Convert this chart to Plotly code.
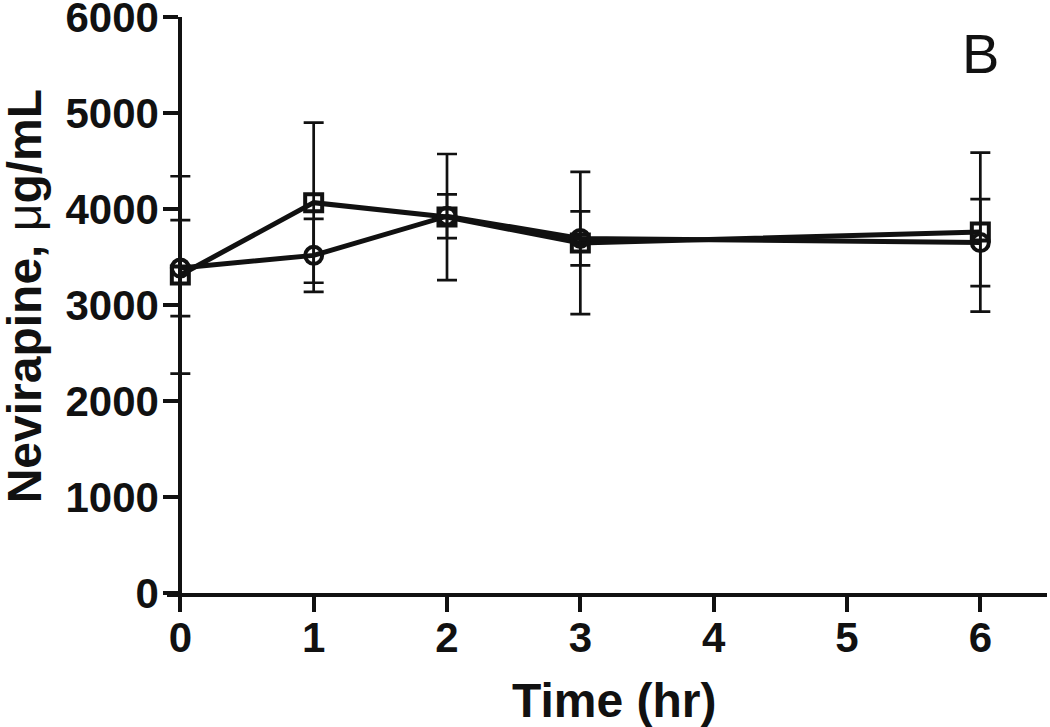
import plotly.graph_objects as go

# Data
time_hr = [0, 1, 2, 3, 6]
circle_mean = [3385, 3517, 3925, 3694, 3650]
circle_err = [500, 380, 228, 282, 453]
square_mean = [3313, 4066, 3916, 3645, 3760]
square_err = [1028, 834, 657, 741, 828]

x_ticks = [0, 1, 2, 3, 4, 5, 6]
y_ticks = [0, 1000, 2000, 3000, 4000, 5000, 6000]

x_title = "Time (hr)"
y_title = "Nevirapine, <span style='font-weight:normal'>μ</span>g/mL"
panel_label = "B"

INK = "#111111"
FONT = "Liberation Sans, Arial, Helvetica, sans-serif"

W, H = 1050, 727
ML, MR, MT, MB = 166.7, 3, 17, 134
X_MIN, X_MAX = -0.1, 6.5
plot_w = W - ML - MR
y_axis_pos = (0 - X_MIN) / (X_MAX - X_MIN)

fig = go.Figure()

for ys, es, sym in [(square_mean, square_err, "square-open"),
                    (circle_mean, circle_err, "circle-open")]:
    fig.add_trace(go.Scatter(
        x=time_hr, y=ys, mode="lines+markers",
        line=dict(color=INK, width=5),
        marker=dict(symbol=sym, size=17, color=INK, line=dict(width=4, color=INK)),
        error_y=dict(type="data", array=es, visible=True, color=INK,
                     thickness=2.7, width=10),
        cliponaxis=False,
        showlegend=False,
    ))

axis_common = dict(
    showline=True, linewidth=4, linecolor=INK, mirror=False,
    ticks="outside", ticklen=15, tickwidth=4, tickcolor=INK,
    showgrid=False, zeroline=False, automargin=False,
    ticklabeloverflow="allow",
    tickfont=dict(family=FONT, size=42, color=INK, weight="bold"),
)

fig.update_layout(
    width=W, height=H,
    margin=dict(l=ML, r=MR, t=MT, b=MB, pad=0),
    paper_bgcolor="white", plot_bgcolor="white",
    font=dict(family=FONT, color=INK),
    xaxis=dict(range=[X_MIN, X_MAX], tickvals=x_ticks,
               ticktext=[str(v) for v in x_ticks], ticklabelstandoff=-10,
               **axis_common),
    yaxis=dict(range=[0, 6000], tickvals=y_ticks,
               ticktext=[str(v) for v in y_ticks], ticklabelstandoff=-4,
               anchor="free", position=y_axis_pos, **axis_common),
    annotations=[
        dict(text=panel_label, xref="paper", yref="paper",
             x=(980 - ML) / plot_w, y=0.9375,
             xanchor="center", yanchor="middle", showarrow=False,
             font=dict(family=FONT, size=56, color=INK)),
        dict(text=x_title, xref="paper", yref="paper",
             x=(614 - ML) / plot_w, y=-0.186,
             xanchor="center", yanchor="middle", showarrow=False,
             font=dict(family=FONT, size=48, color=INK, weight="bold")),
        dict(text=y_title, xref="paper", yref="paper",
             x=(24 - ML) / plot_w, y=0.5156,
             xanchor="center", yanchor="middle", showarrow=False, textangle=-90,
             font=dict(family=FONT, size=48, color=INK, weight="bold")),
    ],
)

# remove the default 8px page margin so the 1050x727 figure fills the window
fig.write_html("out.html", config={"displayModeBar": False},
               post_script="document.body.style.margin='0';")
